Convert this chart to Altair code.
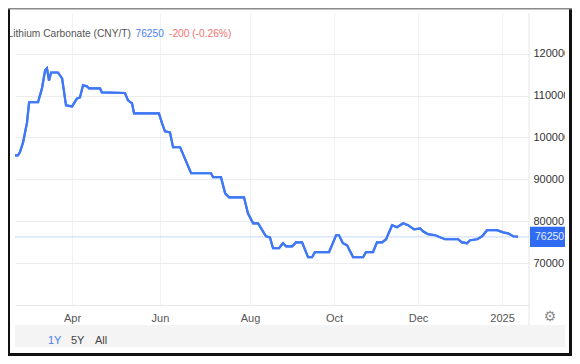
import altair as alt
import pandas as pd

# ---- data (x = session index along the 1Y window, v = CNY/T) ----
t = [0, 1.4, 2.4, 3.9, 5.8, 6.8, 11.1, 13.0, 14.5, 15.4, 16.4, 17.4, 20.7, 22.7, 24.6, 27.5,
     29.9, 31.3, 32.8, 34.7, 35.7, 41.0, 41.9, 53.0, 54.5, 56.4, 57.4, 69.4, 70.9, 72.3, 74.7,
     76.2, 79.6, 82.9, 84.9, 94.5, 95.5, 99.3, 101.3, 103.2, 110.4, 112.3, 114.8, 117.2, 121.0,
     122.9, 124.4, 127.3, 129.2, 130.7, 133.6, 135.5, 138.4, 141.3, 143.2, 144.6, 151.4, 154.8,
     156.2, 158.1, 160.1, 163.0, 167.8, 169.2, 172.6, 174.5, 177.0, 178.9, 181.8, 184.2, 187.1,
     189.5, 192.4, 195.3, 196.7, 199.1, 202.5, 207.3, 213.6, 215.5, 217.9, 219.4, 222.8, 225.2,
     227.6, 232.4, 235.3, 237.7, 240.1, 242.5]
v = [95700, 95700, 96500, 98800, 103600, 108400, 108400, 111700, 116000, 116500, 113600, 115500,
     115500, 114100, 107650, 107400, 109300, 109550, 112450, 112200, 111700, 111700, 110750,
     110600, 108850, 108150, 105750, 105750, 103350, 101450, 101200, 97650, 97650, 93800, 91450,
     91450, 90500, 90500, 86650, 85700, 85700, 81900, 79500, 79500, 76400, 76150, 73550, 73550,
     74750, 74000, 74000, 74950, 74950, 71400, 71400, 72600, 72600, 76650, 76650, 74750, 74250,
     71400, 71400, 72600, 72600, 74950, 74950, 75700, 79050, 78550, 79500, 79050, 78050, 78300,
     77600, 76900, 76650, 75700, 75700, 74950, 74750, 75450, 75700, 76400, 77850, 77850, 77350,
     77100, 76400, 76250]

tick_pos = [27.5, 69.9, 113.3, 153.8, 194.3, 234.8]
tick_labels = ["Apr", "Jun", "Aug", "Oct", "Dec", "2025"]
y_ticks = [70000, 80000, 90000, 100000, 110000, 120000]

last_price = 76250
change_text = "-200 (-0.26%)"
title_text = "Lithium Carbonate (CNY/T)"
ranges = ["1Y", "5Y", "All"]

W, H = 514, 292
FONT = "Liberation Sans"
FS = 10.2

df = pd.DataFrame({"t": t, "v": v})
one = pd.DataFrame({"a": [0]})

xscale = alt.Scale(domain=[0, 247.8], nice=False, zero=False)
yscale = alt.Scale(domain=[60000, 129700], nice=False, zero=False)

label_expr = "[" + ",".join(f"'{s}'" for s in tick_labels) + "][indexof([" + \
    ",".join(str(p) for p in tick_pos) + "], datum.value)]"

line = alt.Chart(df).mark_line(color="#3f78f6", strokeWidth=2.2, interpolate="linear").encode(
    x=alt.X("t:Q", scale=xscale, axis=alt.Axis(
        values=tick_pos, labelExpr=label_expr, ticks=False, domain=True, domainColor="#e8e8e8",
        grid=True, gridColor="#eef3fa", labelPadding=7, labelColor="#555", labelFontSize=11,
        labelFont=FONT, labelFlush=False, labelOverlap=False, title=None, zindex=0)),
    y=alt.Y("v:Q", scale=yscale, axis=alt.Axis(
        orient="right", values=y_ticks, format="d", ticks=False, domain=False, grid=True,
        gridColor="#ececec", labelPadding=4, labelColor="#333", labelFontSize=11,
        labelFont=FONT, title=None, zindex=0)),
)

price_rule = alt.Chart(one).mark_rule(color="#c6d6fb", strokeWidth=1).encode(
    y=alt.Y(datum=last_price, scale=yscale), x=alt.value(0), x2=alt.value(W))

vline = alt.Chart(one).mark_rule(color="#e6e6e6", strokeWidth=1).encode(
    x=alt.value(W), y=alt.value(0), y2=alt.value(312))

strip = alt.Chart(one).mark_rect(color="#f4f4f4").encode(
    x=alt.value(0), x2=alt.value(550), y=alt.value(312), y2=alt.value(334))

box = alt.Chart(one).mark_rect(color="#2f6cf3").encode(
    x=alt.value(515), x2=alt.value(550),
    y=alt.Y(datum=last_price + 2400, scale=yscale), y2=alt.Y2(datum=last_price - 2400))
box_text = alt.Chart(one).mark_text(color="#e4ecff", fontSize=10.5, font=FONT, align="left",
                                    baseline="middle").encode(
    x=alt.value(520), y=alt.Y(datum=last_price, scale=yscale), text=alt.value(str(last_price)))


def label(txt, x, y, color, size=FS):
    return alt.Chart(one).mark_text(color=color, fontSize=size, font=FONT, align="left",
                                    baseline="middle").encode(
        x=alt.value(x), y=alt.value(y), text=alt.value(txt))


t1 = label(title_text, -7.5, 21, "#555")
t2 = label(str(last_price), 120.5, 21, "#4a80f5")
t3 = label(change_text, 154, 21, "#f07272")

r1 = label(ranges[0], 33, 328, "#4a80f5", 11)
r2 = label(ranges[1], 56, 328, "#444", 11)
r3 = label(ranges[2], 80, 328, "#444", 11)

gear = alt.Chart(one).mark_text(color="#8a8a8a", fontSize=14, font="DejaVu Sans",
                                baseline="middle").encode(
    x=alt.value(535), y=alt.value(304), text=alt.value("\u2699"))

cover = alt.Chart(one).mark_rect(color="white").encode(
    x=alt.value(550), x2=alt.value(554), y=alt.value(-5), y2=alt.value(343))
frame_r = alt.Chart(one).mark_rect(color="#111").encode(
    x=alt.value(554), x2=alt.value(557), y=alt.value(-4), y2=alt.value(343))
frame_b = alt.Chart(one).mark_rect(color="#111").encode(
    x=alt.value(-7), x2=alt.value(557), y=alt.value(340), y2=alt.value(343))
frame_l = alt.Chart(one).mark_rect(color="#111").encode(
    x=alt.value(-7), x2=alt.value(-5), y=alt.value(-5), y2=alt.value(343))
frame_t = alt.Chart(one).mark_rect(color="#8a8a8a").encode(
    x=alt.value(-7), x2=alt.value(557), y=alt.value(-5), y2=alt.value(-3.5))

chart = alt.layer(
    line, strip, vline, price_rule, line, box, box_text, t1, t2, t3, r1, r2, r3, gear,
    cover, frame_r, frame_b, frame_l, frame_t
).properties(
    width=W, height=H,
    autosize=alt.AutoSizeParams(type="none"),
    padding={"left": 7, "top": 5, "right": 43, "bottom": 51},
    background="white",
).configure_view(stroke=None)

chart.save("out.html", embed_options={"renderer": "svg", "actions": False})
